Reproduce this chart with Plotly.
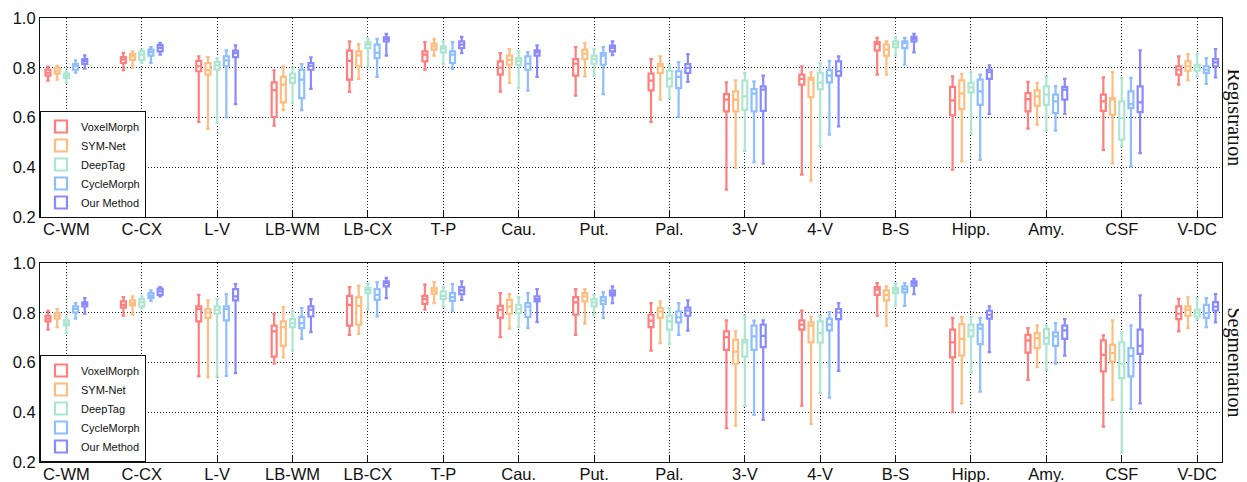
import plotly.graph_objects as go
from plotly.subplots import make_subplots

categories = ["C-WM", "C-CX", "L-V", "LB-WM", "LB-CX", "T-P", "Cau.", "Put.", "Pal.",
              "3-V", "4-V", "B-S", "Hipp.", "Amy.", "CSF", "V-DC"]
methods = ["VoxelMorph", "SYM-Net", "DeepTag", "CycleMorph", "Our Method"]
colors = ["#FF7F7F", "#FFBE80", "#ADE6D0", "#8EBEFF", "#8A8AFF"]
y_ticks = [0.2, 0.4, 0.6, 0.8, 1.0]
panel_labels = ["Registration", "Segmentation"]

# ---------------- Registration (top panel): rows = methods, cols = categories
reg_lo = [
    [0.748, 0.790, 0.582, 0.567, 0.703, 0.792, 0.704, 0.688, 0.582, 0.310, 0.370, 0.772, 0.390, 0.555, 0.470, 0.732],
    [0.752, 0.800, 0.554, 0.630, 0.755, 0.849, 0.739, 0.765, 0.672, 0.397, 0.346, 0.772, 0.424, 0.571, 0.414, 0.749],
    [0.740, 0.820, 0.578, 0.658, 0.806, 0.815, 0.718, 0.768, 0.678, 0.466, 0.484, 0.849, 0.534, 0.547, 0.484, 0.765],
    [0.780, 0.820, 0.600, 0.630, 0.763, 0.795, 0.708, 0.694, 0.602, 0.421, 0.531, 0.812, 0.430, 0.547, 0.403, 0.735],
    [0.796, 0.853, 0.654, 0.715, 0.849, 0.859, 0.763, 0.851, 0.743, 0.414, 0.564, 0.862, 0.614, 0.614, 0.457, 0.761],
]
reg_q1 = [
    [0.768, 0.819, 0.786, 0.602, 0.752, 0.826, 0.772, 0.768, 0.709, 0.625, 0.732, 0.870, 0.609, 0.625, 0.627, 0.772],
    [0.776, 0.832, 0.772, 0.661, 0.806, 0.873, 0.812, 0.835, 0.779, 0.625, 0.682, 0.849, 0.634, 0.647, 0.611, 0.788],
    [0.759, 0.832, 0.792, 0.739, 0.879, 0.862, 0.812, 0.816, 0.725, 0.631, 0.714, 0.883, 0.701, 0.651, 0.511, 0.788],
    [0.792, 0.849, 0.806, 0.678, 0.839, 0.819, 0.792, 0.812, 0.718, 0.625, 0.741, 0.879, 0.651, 0.618, 0.638, 0.779],
    [0.815, 0.866, 0.843, 0.792, 0.906, 0.879, 0.849, 0.866, 0.779, 0.627, 0.768, 0.906, 0.755, 0.672, 0.622, 0.806],
]
reg_med = [
    [0.780, 0.833, 0.806, 0.710, 0.828, 0.853, 0.800, 0.816, 0.748, 0.672, 0.755, 0.895, 0.669, 0.674, 0.665, 0.792],
    [0.788, 0.846, 0.790, 0.732, 0.850, 0.886, 0.832, 0.857, 0.806, 0.672, 0.752, 0.873, 0.696, 0.685, 0.672, 0.806],
    [0.768, 0.853, 0.810, 0.759, 0.893, 0.877, 0.828, 0.835, 0.756, 0.685, 0.740, 0.895, 0.721, 0.692, 0.598, 0.802],
    [0.806, 0.863, 0.830, 0.752, 0.860, 0.853, 0.816, 0.849, 0.763, 0.696, 0.768, 0.900, 0.705, 0.665, 0.654, 0.792],
    [0.826, 0.880, 0.859, 0.808, 0.916, 0.893, 0.862, 0.880, 0.800, 0.712, 0.786, 0.916, 0.782, 0.712, 0.661, 0.822],
]
reg_q3 = [
    [0.792, 0.843, 0.828, 0.741, 0.869, 0.866, 0.826, 0.835, 0.776, 0.694, 0.772, 0.903, 0.723, 0.698, 0.692, 0.806],
    [0.800, 0.855, 0.819, 0.763, 0.866, 0.897, 0.849, 0.873, 0.815, 0.705, 0.759, 0.893, 0.749, 0.709, 0.678, 0.826],
    [0.776, 0.866, 0.823, 0.776, 0.902, 0.886, 0.839, 0.849, 0.788, 0.748, 0.780, 0.906, 0.739, 0.725, 0.665, 0.812],
    [0.815, 0.873, 0.846, 0.792, 0.893, 0.866, 0.846, 0.859, 0.786, 0.714, 0.790, 0.906, 0.752, 0.692, 0.705, 0.806],
    [0.835, 0.891, 0.869, 0.819, 0.922, 0.906, 0.870, 0.889, 0.815, 0.725, 0.826, 0.924, 0.792, 0.723, 0.725, 0.835],
]
reg_hi = [
    [0.805, 0.860, 0.846, 0.790, 0.906, 0.903, 0.859, 0.883, 0.835, 0.741, 0.806, 0.920, 0.765, 0.743, 0.761, 0.846],
    [0.808, 0.866, 0.843, 0.806, 0.895, 0.916, 0.875, 0.900, 0.846, 0.749, 0.782, 0.906, 0.775, 0.739, 0.783, 0.855],
    [0.785, 0.873, 0.839, 0.800, 0.917, 0.906, 0.866, 0.875, 0.810, 0.779, 0.819, 0.924, 0.783, 0.763, 0.759, 0.855],
    [0.830, 0.883, 0.870, 0.815, 0.916, 0.903, 0.863, 0.883, 0.823, 0.745, 0.828, 0.920, 0.772, 0.725, 0.759, 0.839],
    [0.850, 0.900, 0.890, 0.842, 0.936, 0.924, 0.890, 0.906, 0.855, 0.768, 0.846, 0.936, 0.810, 0.755, 0.870, 0.875],
]

# ---------------- Segmentation (bottom panel)
seg_lo = [
    [0.732, 0.788, 0.544, 0.595, 0.711, 0.812, 0.702, 0.711, 0.648, 0.336, 0.427, 0.788, 0.400, 0.530, 0.342, 0.725],
    [0.742, 0.792, 0.540, 0.621, 0.715, 0.839, 0.736, 0.756, 0.678, 0.346, 0.352, 0.748, 0.436, 0.581, 0.450, 0.738],
    [0.718, 0.819, 0.544, 0.648, 0.812, 0.825, 0.742, 0.789, 0.674, 0.426, 0.477, 0.830, 0.560, 0.570, 0.239, 0.774],
    [0.776, 0.848, 0.546, 0.695, 0.785, 0.808, 0.738, 0.779, 0.711, 0.389, 0.459, 0.828, 0.483, 0.595, 0.413, 0.742],
    [0.796, 0.866, 0.557, 0.722, 0.859, 0.852, 0.762, 0.839, 0.728, 0.369, 0.566, 0.875, 0.642, 0.628, 0.436, 0.761],
]
seg_q1 = [
    [0.765, 0.821, 0.765, 0.624, 0.748, 0.836, 0.779, 0.792, 0.742, 0.651, 0.732, 0.872, 0.621, 0.640, 0.564, 0.774],
    [0.776, 0.830, 0.779, 0.667, 0.752, 0.877, 0.796, 0.846, 0.779, 0.595, 0.681, 0.850, 0.628, 0.658, 0.604, 0.788],
    [0.749, 0.826, 0.796, 0.742, 0.879, 0.855, 0.799, 0.826, 0.732, 0.624, 0.680, 0.879, 0.705, 0.675, 0.537, 0.785],
    [0.801, 0.859, 0.769, 0.738, 0.852, 0.848, 0.783, 0.836, 0.761, 0.651, 0.729, 0.882, 0.674, 0.667, 0.544, 0.779],
    [0.826, 0.872, 0.850, 0.785, 0.906, 0.875, 0.846, 0.870, 0.788, 0.662, 0.774, 0.909, 0.776, 0.695, 0.635, 0.809],
]
seg_med = [
    [0.776, 0.832, 0.815, 0.725, 0.832, 0.855, 0.812, 0.842, 0.768, 0.702, 0.752, 0.893, 0.681, 0.689, 0.631, 0.796],
    [0.788, 0.839, 0.801, 0.742, 0.828, 0.889, 0.825, 0.866, 0.805, 0.644, 0.748, 0.872, 0.695, 0.698, 0.638, 0.812],
    [0.758, 0.842, 0.812, 0.758, 0.890, 0.868, 0.815, 0.842, 0.765, 0.681, 0.718, 0.890, 0.729, 0.698, 0.595, 0.801],
    [0.815, 0.868, 0.815, 0.758, 0.872, 0.863, 0.825, 0.850, 0.782, 0.705, 0.752, 0.895, 0.736, 0.705, 0.627, 0.799],
    [0.836, 0.886, 0.866, 0.812, 0.920, 0.890, 0.855, 0.879, 0.809, 0.707, 0.801, 0.919, 0.792, 0.729, 0.667, 0.825],
]
seg_q3 = [
    [0.788, 0.846, 0.826, 0.748, 0.868, 0.868, 0.828, 0.863, 0.792, 0.725, 0.769, 0.903, 0.732, 0.711, 0.689, 0.826],
    [0.799, 0.850, 0.815, 0.765, 0.863, 0.899, 0.852, 0.879, 0.819, 0.691, 0.761, 0.890, 0.754, 0.718, 0.671, 0.826],
    [0.769, 0.855, 0.826, 0.774, 0.899, 0.886, 0.832, 0.855, 0.788, 0.691, 0.765, 0.899, 0.752, 0.734, 0.681, 0.812],
    [0.826, 0.879, 0.826, 0.783, 0.895, 0.879, 0.839, 0.863, 0.805, 0.748, 0.776, 0.906, 0.752, 0.721, 0.658, 0.832],
    [0.842, 0.897, 0.895, 0.826, 0.926, 0.903, 0.866, 0.889, 0.821, 0.752, 0.815, 0.926, 0.808, 0.748, 0.732, 0.843],
]
seg_hi = [
    [0.808, 0.863, 0.872, 0.796, 0.903, 0.913, 0.879, 0.895, 0.839, 0.769, 0.809, 0.919, 0.779, 0.738, 0.709, 0.856],
    [0.815, 0.866, 0.850, 0.823, 0.909, 0.923, 0.875, 0.895, 0.846, 0.725, 0.785, 0.906, 0.783, 0.749, 0.769, 0.862],
    [0.785, 0.866, 0.855, 0.808, 0.917, 0.903, 0.863, 0.872, 0.819, 0.789, 0.788, 0.919, 0.783, 0.749, 0.721, 0.859],
    [0.839, 0.890, 0.875, 0.819, 0.922, 0.915, 0.879, 0.883, 0.839, 0.768, 0.803, 0.919, 0.779, 0.758, 0.749, 0.859],
    [0.859, 0.903, 0.915, 0.855, 0.940, 0.926, 0.895, 0.906, 0.850, 0.769, 0.839, 0.936, 0.826, 0.774, 0.870, 0.875],
]

panels = [
    (reg_lo, reg_q1, reg_med, reg_q3, reg_hi),
    (seg_lo, seg_q1, seg_med, seg_q3, seg_hi),
]

fig = make_subplots(rows=2, cols=1, vertical_spacing=0.1036)

for p, (lo, q1, med, q3, hi) in enumerate(panels):
    for m, name in enumerate(methods):
        fig.add_trace(go.Box(
            x=categories,
            lowerfence=lo[m], q1=q1[m], median=med[m], q3=q3[m], upperfence=hi[m],
            name=name,
            legendgroup=f"p{p}",
            legend="legend" if p == 0 else "legend2",
            line=dict(color=colors[m], width=2.2),
            fillcolor="white",
            whiskerwidth=0.7,
            boxpoints=False,
            offsetgroup=str(m),
            showlegend=True,
        ), row=p + 1, col=1)

axis_font = dict(family="Liberation Sans, Arial, sans-serif", size=16.5, color="#111")
grid_dash = "1px,2px"

for r in (1, 2):
    fig.update_xaxes(
        type="category", categoryorder="array", categoryarray=categories,
        range=[-0.35, 15.33], automargin=False,
        showline=True, linecolor="#111", linewidth=1.2, mirror=True,
        showgrid=True, gridcolor="#222", griddash=grid_dash, gridwidth=1,
        ticks="inside", ticklen=7, tickwidth=1.3, tickcolor="#111",
        ticklabelstandoff=-3,
        tickfont=axis_font, zeroline=False,
        row=r, col=1)
    fig.update_yaxes(
        range=[0.2, 1.0], tickvals=y_ticks, ticktext=[f"{v:.1f}" for v in y_ticks],
        automargin=False,
        showline=True, linecolor="#111", linewidth=1.2, mirror=True,
        showgrid=True, gridcolor="#222", griddash=grid_dash, gridwidth=1,
        ticks="", tickfont=axis_font, zeroline=False,
        row=r, col=1)

legend_style = dict(
    font=dict(family="Liberation Sans, Arial, sans-serif", size=11, color="#111"),
    bgcolor="white", bordercolor="#111", borderwidth=1,
    xanchor="left", yanchor="bottom", x=0.0, traceorder="normal",
)

# the page body adds an 8px offset, so the figure is sized to the visible area
fig.update_layout(
    width=1239, height=474,
    margin=dict(l=32, r=25, t=10, b=20, autoexpand=False),
    paper_bgcolor="white", plot_bgcolor="white",
    boxmode="group", boxgap=0.39, boxgroupgap=0.46,
    legend=dict(**legend_style, y=0.5495),
    legend2=dict(**legend_style, y=0.0),
)

for i, label in enumerate(panel_labels):
    yc = 0.776 if i == 0 else 0.224
    fig.add_annotation(
        text=label, xref="paper", yref="paper", x=1.0102, y=yc,
        xanchor="center", yanchor="middle", textangle=90, showarrow=False,
        font=dict(family="Liberation Serif, Times New Roman, serif", size=20, color="#111"),
    )

fig.write_html("out.html")
